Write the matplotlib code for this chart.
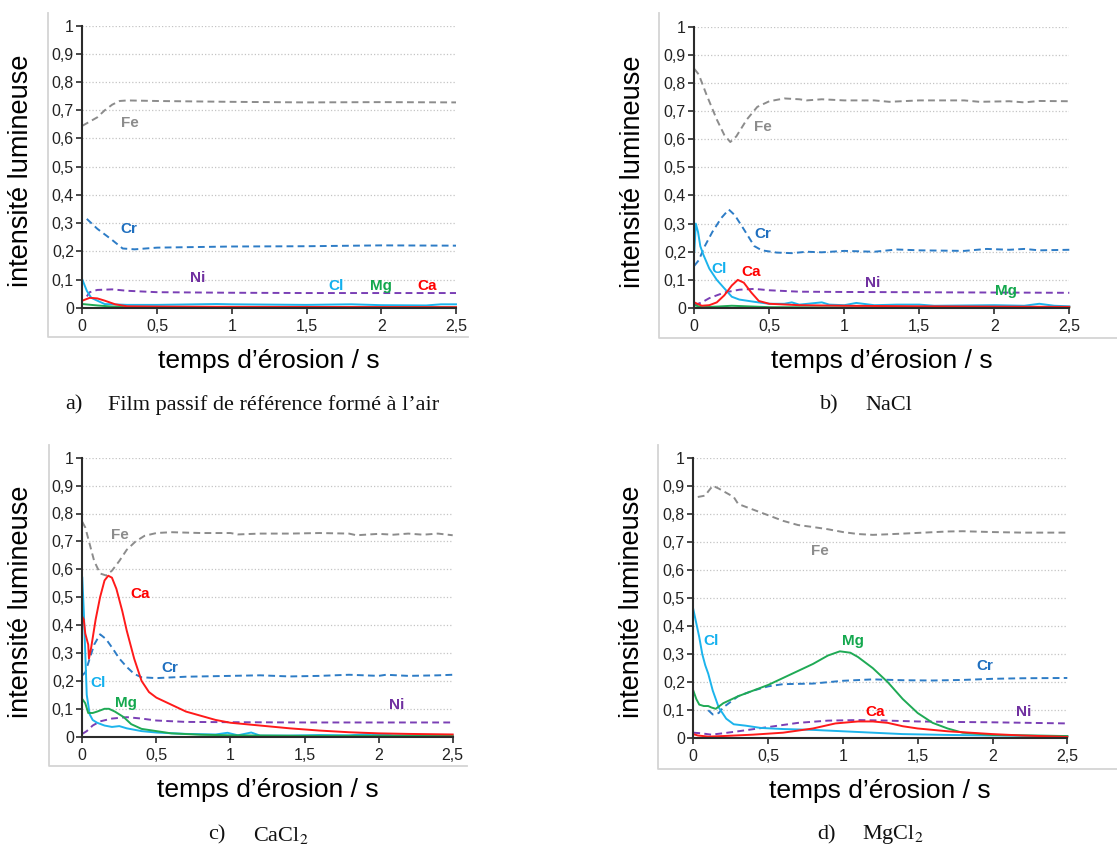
import matplotlib
matplotlib.use('Agg')
import matplotlib.pyplot as plt
from matplotlib.lines import Line2D
from matplotlib.ticker import FuncFormatter, MultipleLocator

plt.rcParams['font.family'] = ['Liberation Sans', 'DejaVu Sans']
plt.rcParams['mathtext.fontset'] = 'stix'

# ---- a) film passif de reference (air) : (temps, intensite)
a_fe = [(0, 0.645), (0.05, 0.66), (0.1, 0.675), (0.15, 0.70), (0.2, 0.72), (0.25, 0.733), (0.3, 0.735),
        (0.5, 0.733), (1, 0.730), (1.5, 0.728), (2, 0.729), (2.5, 0.728)]
a_cr = [(0.03, 0.315), (0.1, 0.28), (0.2, 0.24), (0.27, 0.21), (0.35, 0.207), (0.5, 0.213), (1, 0.217),
        (1.5, 0.218), (2, 0.221), (2.5, 0.22)]
a_ni = [(0.03, 0.04), (0.05, 0.055), (0.1, 0.063), (0.2, 0.065), (0.3, 0.06), (0.5, 0.055), (1, 0.053),
        (1.5, 0.052), (2, 0.052), (2.5, 0.052)]
a_cl = [(0, 0.10), (0.03, 0.06), (0.06, 0.035), (0.1, 0.025), (0.15, 0.013), (0.3, 0.01), (0.5, 0.01),
        (0.9, 0.013), (1, 0.012), (1.5, 0.01), (1.8, 0.012), (2, 0.009), (2.3, 0.008), (2.4, 0.012), (2.5, 0.012)]
a_mg = [(0, 0.013), (0.1, 0.008), (0.2, 0.004), (0.3, 0.002), (2.5, 0.001)]
a_ca = [(0, 0.025), (0.05, 0.035), (0.1, 0.033), (0.15, 0.025), (0.22, 0.012), (0.3, 0.005), (0.5, 0.004),
        (1, 0.003), (2.5, 0.002)]

# ---- b) NaCl
b_fe = [(0, 0.85), (0.03, 0.83), (0.08, 0.76), (0.15, 0.67), (0.2, 0.615), (0.24, 0.59), (0.28, 0.61),
        (0.35, 0.67), (0.42, 0.715), (0.5, 0.735), (0.6, 0.745), (0.7, 0.742), (0.75, 0.738), (0.85, 0.742),
        (1, 0.738), (1.2, 0.738), (1.3, 0.733), (1.5, 0.738), (1.8, 0.738), (1.9, 0.733), (2.1, 0.735),
        (2.2, 0.731), (2.3, 0.736), (2.5, 0.735)]
b_cr = [(0, 0.15), (0.03, 0.17), (0.07, 0.22), (0.12, 0.27), (0.18, 0.32), (0.23, 0.35), (0.27, 0.33),
        (0.33, 0.28), (0.4, 0.22), (0.45, 0.205), (0.55, 0.197), (0.65, 0.195), (0.75, 0.2), (0.85, 0.198),
        (1, 0.203), (1.2, 0.2), (1.35, 0.208), (1.5, 0.205), (1.8, 0.203), (1.95, 0.21), (2.1, 0.207),
        (2.2, 0.21), (2.3, 0.205), (2.5, 0.207)]
b_ni = [(0, 0.01), (0.05, 0.02), (0.1, 0.035), (0.2, 0.055), (0.3, 0.065), (0.4, 0.068), (0.5, 0.063),
        (0.7, 0.058), (1, 0.057), (1.5, 0.056), (2, 0.055), (2.5, 0.054)]
b_cl = [(0, 0.20), (0.01, 0.30), (0.025, 0.27), (0.04, 0.22), (0.06, 0.19), (0.1, 0.14), (0.15, 0.10),
        (0.2, 0.07), (0.25, 0.04), (0.3, 0.03), (0.4, 0.022), (0.5, 0.015), (0.6, 0.015), (0.65, 0.02),
        (0.7, 0.012), (0.85, 0.02), (0.9, 0.012), (1, 0.01), (1.08, 0.018), (1.2, 0.01), (1.35, 0.012),
        (1.5, 0.012), (1.6, 0.008), (2, 0.01), (2.2, 0.008), (2.3, 0.015), (2.4, 0.008), (2.5, 0.006)]
b_mg = [(0, 0.01), (0.05, 0.003), (0.15, 0.005), (0.25, 0.008), (0.35, 0.006), (0.5, 0.003), (1, 0.002),
        (2.5, 0.002)]
b_ca = [(0, 0.02), (0.02, 0.015), (0.05, 0.008), (0.1, 0.01), (0.15, 0.02), (0.2, 0.045), (0.25, 0.08),
        (0.29, 0.1), (0.33, 0.09), (0.38, 0.055), (0.43, 0.025), (0.5, 0.015), (0.7, 0.01), (1, 0.008),
        (1.5, 0.006), (2, 0.005), (2.5, 0.004)]

# ---- c) CaCl2
c_fe = [(0, 0.77), (0.02, 0.75), (0.05, 0.69), (0.08, 0.63), (0.12, 0.585), (0.16, 0.578), (0.2, 0.595),
        (0.25, 0.63), (0.3, 0.67), (0.36, 0.7), (0.42, 0.72), (0.5, 0.73), (0.6, 0.733), (0.8, 0.73),
        (1, 0.73), (1.05, 0.725), (1.2, 0.728), (1.4, 0.728), (1.6, 0.73), (1.8, 0.728), (1.85, 0.722),
        (2, 0.727), (2.1, 0.724), (2.2, 0.728), (2.3, 0.724), (2.4, 0.728), (2.5, 0.722)]
c_cr = [(0, 0.22), (0.02, 0.23), (0.05, 0.28), (0.08, 0.33), (0.12, 0.367), (0.16, 0.35), (0.2, 0.32),
        (0.25, 0.28), (0.3, 0.25), (0.35, 0.225), (0.4, 0.213), (0.5, 0.21), (0.7, 0.215), (1, 0.218),
        (1.2, 0.22), (1.4, 0.216), (1.6, 0.218), (1.8, 0.222), (2, 0.218), (2.05, 0.222), (2.2, 0.218),
        (2.4, 0.22), (2.5, 0.222)]
c_ni = [(0, 0.01), (0.03, 0.02), (0.07, 0.04), (0.12, 0.055), (0.2, 0.065), (0.3, 0.07), (0.4, 0.065),
        (0.5, 0.058), (0.7, 0.053), (1, 0.052), (1.5, 0.051), (2, 0.051), (2.5, 0.051)]
c_cl = [(0, 0.57), (0.01, 0.45), (0.02, 0.3), (0.03, 0.15), (0.05, 0.08), (0.07, 0.06), (0.1, 0.05),
        (0.15, 0.04), (0.2, 0.035), (0.25, 0.038), (0.3, 0.03), (0.4, 0.02), (0.5, 0.015), (0.7, 0.01),
        (0.9, 0.008), (0.98, 0.014), (1.05, 0.005), (1.14, 0.015), (1.2, 0.004), (1.4, 0.004), (1.6, 0.006),
        (1.8, 0.005), (1.95, 0.01), (2.1, 0.005), (2.5, 0.004)]
c_mg = [(0, 0.135), (0.02, 0.12), (0.04, 0.085), (0.07, 0.085), (0.1, 0.09), (0.15, 0.1), (0.18, 0.1),
        (0.22, 0.09), (0.28, 0.07), (0.33, 0.045), (0.4, 0.028), (0.5, 0.02), (0.6, 0.012), (0.8, 0.007),
        (1, 0.005), (1.5, 0.003), (2, 0.003), (2.5, 0.003)]
c_ca = [(0, 0.43), (0.01, 0.42), (0.02, 0.37), (0.04, 0.33), (0.045, 0.28), (0.06, 0.32), (0.09, 0.42),
        (0.12, 0.5), (0.15, 0.56), (0.175, 0.577), (0.2, 0.57), (0.23, 0.53), (0.27, 0.45), (0.3, 0.38),
        (0.35, 0.28), (0.4, 0.2), (0.45, 0.16), (0.5, 0.14), (0.6, 0.115), (0.7, 0.09), (0.8, 0.075),
        (0.9, 0.06), (1, 0.05), (1.2, 0.04), (1.4, 0.03), (1.6, 0.022), (1.8, 0.016), (2, 0.012),
        (2.2, 0.01), (2.5, 0.008)]

# ---- d) MgCl2
d_fe = [(0.03, 0.86), (0.08, 0.865), (0.1, 0.88), (0.13, 0.9), (0.17, 0.89), (0.22, 0.875), (0.27, 0.86),
        (0.3, 0.835), (0.4, 0.815), (0.5, 0.795), (0.6, 0.775), (0.7, 0.76), (0.8, 0.753), (0.9, 0.745),
        (1, 0.735), (1.1, 0.728), (1.2, 0.725), (1.3, 0.727), (1.5, 0.732), (1.7, 0.737), (1.8, 0.738),
        (2, 0.735), (2.2, 0.733), (2.5, 0.733)]
d_cr = [(0.1, 0.1), (0.13, 0.085), (0.17, 0.09), (0.2, 0.11), (0.25, 0.13), (0.3, 0.15), (0.4, 0.17),
        (0.5, 0.185), (0.6, 0.193), (0.8, 0.195), (1, 0.205), (1.2, 0.21), (1.4, 0.207), (1.6, 0.206),
        (1.8, 0.208), (2, 0.212), (2.2, 0.214), (2.5, 0.215)]
d_ni = [(0, 0.02), (0.05, 0.018), (0.12, 0.013), (0.2, 0.018), (0.3, 0.025), (0.5, 0.04), (0.7, 0.055),
        (0.9, 0.063), (1.1, 0.065), (1.3, 0.063), (1.5, 0.06), (1.8, 0.058), (2, 0.057), (2.5, 0.053)]
d_cl = [(0, 0.46), (0.02, 0.41), (0.04, 0.36), (0.06, 0.3), (0.08, 0.26), (0.1, 0.23), (0.13, 0.17),
        (0.17, 0.11), (0.22, 0.07), (0.27, 0.05), (0.35, 0.045), (0.45, 0.037), (0.6, 0.033), (0.8, 0.03),
        (1, 0.025), (1.2, 0.02), (1.4, 0.015), (1.7, 0.012), (2, 0.01), (2.5, 0.008)]
d_mg = [(0, 0.17), (0.02, 0.14), (0.04, 0.12), (0.07, 0.115), (0.1, 0.115), (0.12, 0.11), (0.15, 0.105),
        (0.2, 0.125), (0.3, 0.15), (0.4, 0.17), (0.5, 0.19), (0.6, 0.215), (0.7, 0.24), (0.8, 0.265),
        (0.9, 0.295), (0.98, 0.31), (1.05, 0.305), (1.1, 0.29), (1.2, 0.25), (1.3, 0.2), (1.4, 0.14),
        (1.5, 0.09), (1.6, 0.055), (1.7, 0.035), (1.8, 0.02), (2, 0.012), (2.5, 0.008)]
d_ca = [(0, 0.015), (0.03, 0.01), (0.1, 0.006), (0.2, 0.008), (0.4, 0.013), (0.6, 0.02), (0.8, 0.035),
        (0.95, 0.053), (1.1, 0.06), (1.2, 0.06), (1.3, 0.055), (1.4, 0.043), (1.5, 0.035), (1.7, 0.025),
        (2, 0.015), (2.2, 0.01), (2.5, 0.005)]

# label positions (temps, intensite) per panel: Fe, Cr, Ni, Cl, Mg, Ca
a_lab = [(0.32, 0.655), (0.31, 0.279), (0.77, 0.104), (1.70, 0.078), (2.0, 0.078), (2.31, 0.078)]
b_lab = [(0.46, 0.642), (0.456, 0.262), (1.19, 0.09), (0.167, 0.139), (2.08, 0.06), (0.378, 0.129)]
c_lab = [(0.254, 0.722), (0.59, 0.245), (2.12, 0.114), (0.108, 0.191), (0.295, 0.12), (0.39, 0.51)]
d_lab = [(0.847, 0.669), (1.95, 0.259), (2.21, 0.093), (0.116, 0.348), (1.066, 0.348), (1.215, 0.095)]

names = ['Fe', 'Cr', 'Ni', 'Cl', 'Mg', 'Ca']
line_cols = ['#8c8c8c', '#2d7cc6', '#7a3fb5', '#1cb4ec', '#1faa55', '#ff1a1a']
text_cols = ['#8c8c8c', '#1f6fbf', '#7030a0', '#12b0ee', '#14a84e', '#ff0000']
styles = ['--', '--', '--', '-', '-', '-']

W, H = 1117, 848
fig = plt.figure(figsize=(W / 100, H / 100), dpi=100)


def comma(v, pos):
    return ('%g' % round(v, 2)).replace('.', ',')


def setAx(rect_px, frame_px):
    l, t, r, b = rect_px
    ax = fig.add_axes([l / W, 1 - b / H, (r - l) / W, (b - t) / H])
    ax.set_xlim(0, 2.5)
    ax.set_ylim(0, 1)
    ax.xaxis.set_major_locator(MultipleLocator(0.5))
    ax.yaxis.set_major_locator(MultipleLocator(0.1))
    ax.xaxis.set_major_formatter(FuncFormatter(comma))
    ax.yaxis.set_major_formatter(FuncFormatter(comma))
    ax.grid(axis='y', linestyle=':', color='#c4c4c4', linewidth=0.9)
    ax.set_axisbelow(True)
    for s in ['top', 'right']:
        ax.spines[s].set_visible(False)
    for s in ['left', 'bottom']:
        ax.spines[s].set_color('#2b2b2b')
        ax.spines[s].set_linewidth(1.5)
    ax.tick_params(axis='both', length=4, width=1.2, color='#2b2b2b', labelsize=11.5,
                   labelcolor='#222222')
    ax.tick_params(axis='x', pad=4)
    ax.tick_params(axis='y', pad=2)
    ax.set_xlabel('temps d\u2019érosion / s', fontsize=19)
    ax.set_ylabel('intensité lumineuse', fontsize=19.5)
    ax.xaxis.label.set_va('center')
    ax.yaxis.label.set_va('center')
    ax.xaxis.set_label_coords(0.5, -53 / (b - t))
    ax.yaxis.set_label_coords(-61 / (r - l), 0.485)
    # light grey chart-area frame (left and bottom)
    fx0, fy0, fx1, fy1 = frame_px
    fig.add_artist(Line2D([fx0 / W, fx0 / W, fx1 / W], [1 - fy0 / H, 1 - fy1 / H, 1 - fy1 / H],
                          transform=fig.transFigure, color='#d4d4d4', linewidth=1.3))
    return ax


def draw(ax, series, labels):
    for k in range(6):
        t = [p[0] for p in series[k]]
        v = [p[1] for p in series[k]]
        ax.plot(t, v, styles[k], color=line_cols[k], linewidth=1.4,
                dashes=(3.5, 2.2) if styles[k] == '--' else (None, None), clip_on=False)
        ax.text(labels[k][0], labels[k][1], names[k], color=text_cols[k], fontsize=11,
                fontweight='bold', ha='center', va='center')


ax = setAx((82.3, 25.7, 456, 307.7), (48, 13, 468, 337))
draw(ax, [a_fe, a_cr, a_ni, a_cl, a_mg, a_ca], a_lab)
ax = setAx((694.3, 26.7, 1069.3, 308), (659, 13, 1117, 337.7))
draw(ax, [b_fe, b_cr, b_ni, b_cl, b_mg, b_ca], b_lab)
ax = setAx((82.3, 457.7, 452.7, 736.7), (49, 445, 467, 766))
draw(ax, [c_fe, c_cr, c_ni, c_cl, c_mg, c_ca], c_lab)
ax = setAx((693.3, 457.7, 1067.3, 738.3), (658, 445, 1117, 769))
draw(ax, [d_fe, d_cr, d_ni, d_cl, d_mg, d_ca], d_lab)

# captions
cap = dict(family=['Liberation Serif', 'DejaVu Serif'], fontsize=16, va='center', color='#111111')
fig.text(65 / W, 1 - 405 / H, 'a)', **cap)
fig.text(108 / W, 1 - 405 / H, 'Film passif de référence formé à l\u2019air', **cap)
fig.text(820 / W, 1 - 405 / H, 'b)', **cap)
fig.text(865 / W, 1 - 405 / H, 'NaCl', **cap)
fig.text(208 / W, 1 - 835 / H, 'c)', **cap)
fig.text(253 / W, 1 - 835 / H, 'CaCl$_2$', **cap)
fig.text(817 / W, 1 - 835 / H, 'd)', **cap)
fig.text(862 / W, 1 - 835 / H, 'MgCl$_2$', **cap)

fig.savefig('out.png', dpi=100)
